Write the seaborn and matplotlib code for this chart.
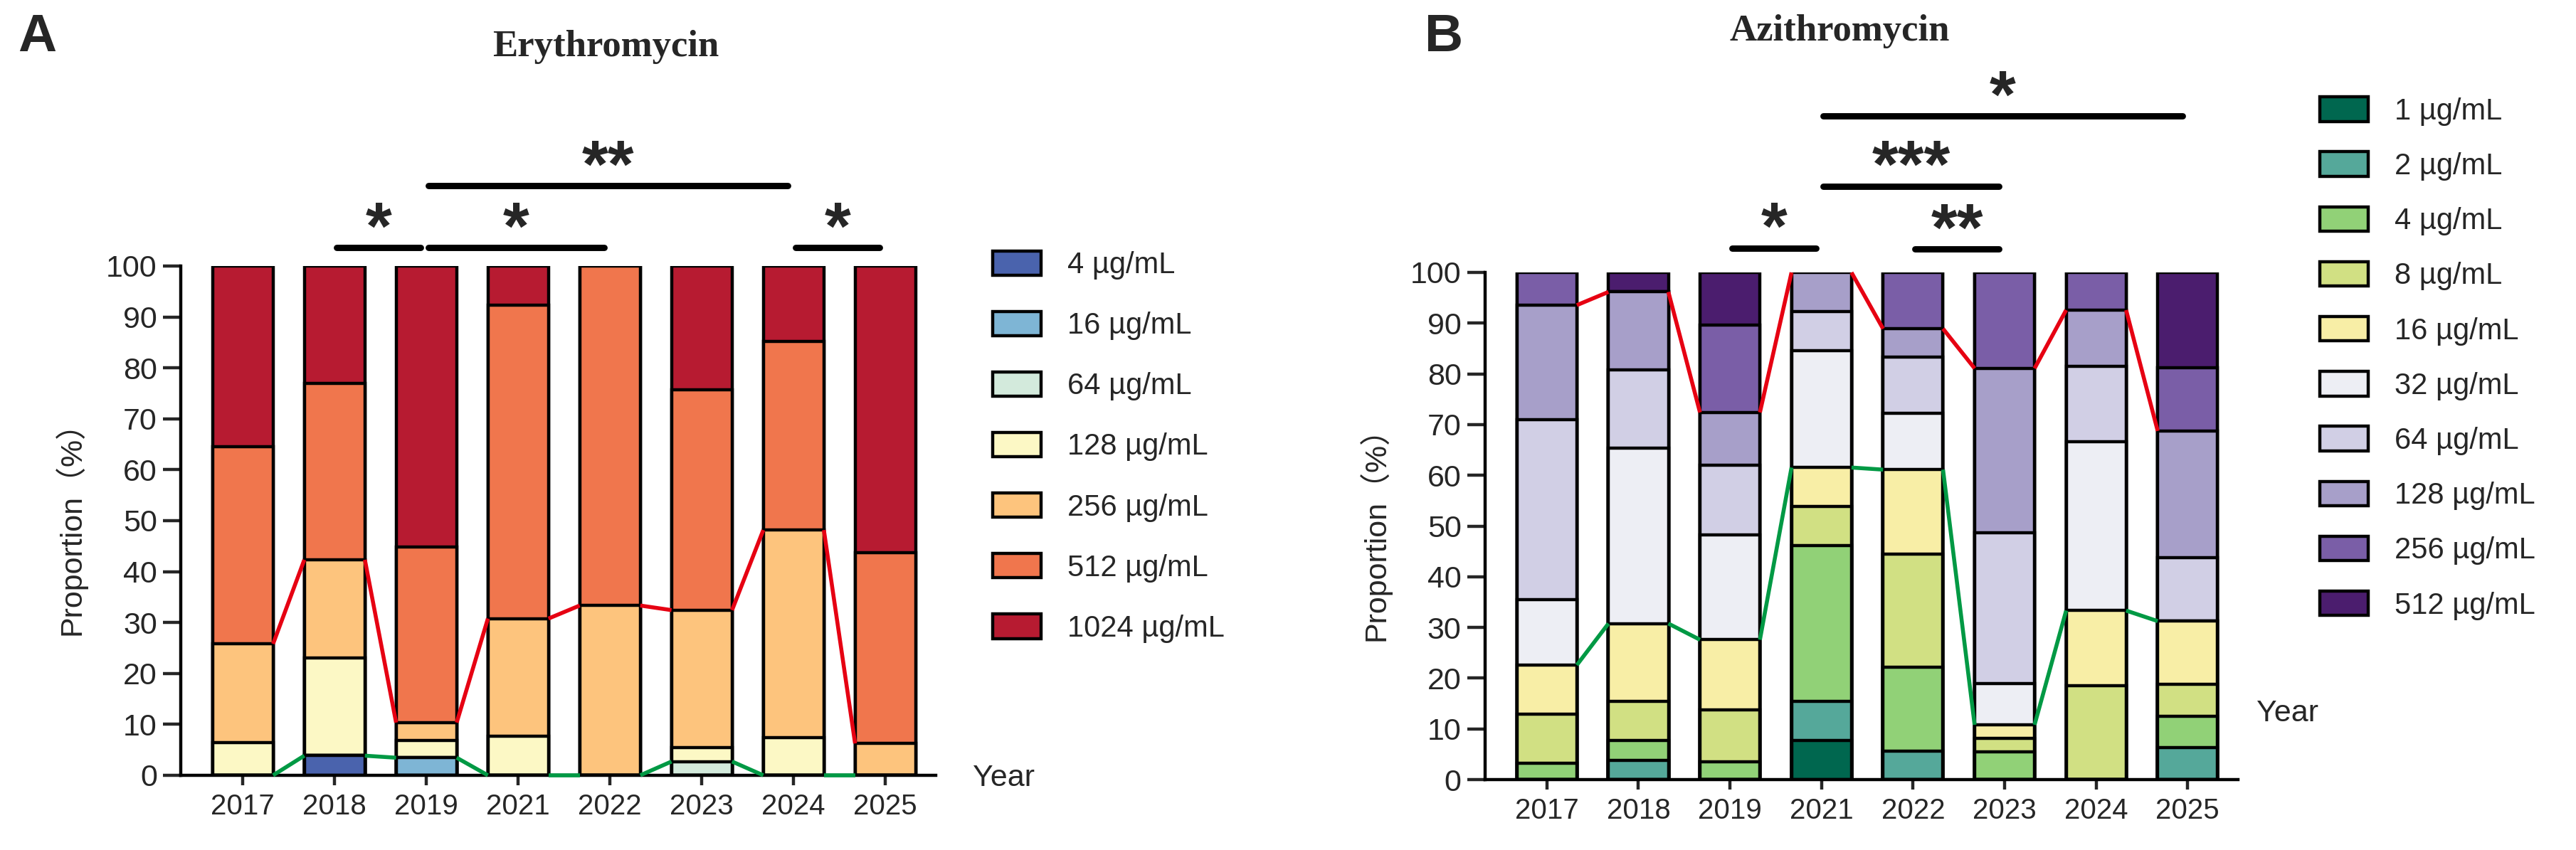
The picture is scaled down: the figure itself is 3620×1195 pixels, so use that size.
import numpy as np
import pandas as pd
import matplotlib
matplotlib.use("Agg")
import matplotlib.pyplot as plt
import seaborn as sns
from matplotlib.patches import Patch

years = ['2017', '2018', '2019', '2021', '2022', '2023', '2024', '2025']

# Erythromycin MIC distribution, % of isolates per year
ery_levels = ['4 µg/mL', '16 µg/mL', '64 µg/mL', '128 µg/mL',
              '256 µg/mL', '512 µg/mL', '1024 µg/mL']
ery_4 = [0, 3.85, 0, 0, 0, 0, 0, 0]
ery_16 = [0, 0, 3.45, 0, 0, 0, 0, 0]
ery_64 = [0, 0, 0, 0, 0, 2.70, 0, 0]
ery_128 = [6.45, 19.23, 3.45, 7.69, 0, 2.70, 7.41, 0]
ery_256 = [19.35, 19.23, 3.45, 23.08, 33.33, 27.03, 40.74, 6.25]
ery_512 = [38.71, 34.62, 34.48, 61.54, 66.67, 43.24, 37.04, 37.50]
ery_1024 = [35.48, 23.08, 55.17, 7.69, 0, 24.32, 14.81, 56.25]
ery_colors = ['#4a63ad', '#7eb5d5', '#d3eadc', '#fcf8c5',
              '#fdc47d', '#f0764d', '#b71b31']

# Azithromycin MIC distribution, % of isolates per year
azi_levels = ['1 µg/mL', '2 µg/mL', '4 µg/mL', '8 µg/mL', '16 µg/mL',
              '32 µg/mL', '64 µg/mL', '128 µg/mL', '256 µg/mL', '512 µg/mL']
azi_1 = [0, 0, 0, 7.69, 0, 0, 0, 0]
azi_2 = [0, 3.85, 0, 7.69, 5.56, 0, 0, 6.25]
azi_4 = [3.23, 3.85, 3.45, 30.77, 16.67, 5.41, 0, 6.25]
azi_8 = [9.68, 7.69, 10.34, 7.69, 22.22, 2.70, 18.52, 6.25]
azi_16 = [9.68, 15.38, 13.79, 7.69, 16.67, 2.70, 14.81, 12.50]
azi_32 = [12.90, 34.62, 20.69, 23.08, 11.11, 8.11, 33.33, 0]
azi_64 = [35.48, 15.38, 13.79, 7.69, 11.11, 29.73, 14.81, 12.50]
azi_128 = [22.58, 15.38, 10.34, 7.69, 5.56, 32.43, 11.11, 25.00]
azi_256 = [6.45, 0, 17.24, 0, 11.11, 18.92, 7.41, 12.50]
azi_512 = [0, 3.85, 10.34, 0, 0, 0, 0, 18.75]
azi_colors = ['#00674f', '#55a89a', '#91d177', '#d1e083', '#f8eea6',
              '#edeef4', '#d1cfe5', '#a79fc9', '#7a5ea7', '#4b1d6e']

# significance brackets: (from year index, to year index, label, height)
ery_sig = [(1, 2, '*', 103.6), (2, 4, '*', 103.6), (2, 6, '**', 115.8), (6, 7, '*', 103.6)]
azi_sig = [(2, 3, '*', 104.8), (4, 5, '**', 104.6), (3, 5, '***', 117), (3, 7, '*', 130.8)]

RED = '#e60012'
GREEN = '#009944'

sns.set_style('white')
plt.rcParams['font.family'] = ['Liberation Sans', 'Noto Sans CJK SC', 'DejaVu Sans']


def stacked_panel(ax, table, levels, colors, red_upto, green_upto, sig, width):
    cum = np.cumsum(np.array(table), axis=0)
    # draw cumulative totals from the top category down so lower ones cover
    for k in range(len(levels) - 1, -1, -1):
        sns.barplot(x=years, y=cum[k], order=years, color=colors[k], saturation=1,
                    width=width, edgecolor='black', linewidth=1.6, ax=ax, zorder=2)
    half = width / 2
    for upto, col in [(red_upto, RED), (green_upto, GREEN)]:
        vals = cum[upto]
        for i in range(len(years) - 1):
            ax.plot([i + half, i + 1 - half], [vals[i], vals[i + 1]], color=col,
                    lw=2.0, zorder=3, clip_on=False, solid_capstyle='butt')
    for a, b, lab, h in sig:
        ax.plot([a + 0.02, b - 0.06], [h, h], color='black', lw=3.2,
                solid_capstyle='round', clip_on=False)
        ax.text((a + b) / 2 - 0.02, h - 3.0, lab, ha='center', va='bottom',
                fontsize=34, fontweight='bold', clip_on=False)
    ax.set_ylim(0, 100)
    ax.set_xlim(-0.675, 7.55)
    ax.set_yticks(range(0, 101, 10))
    ax.set_xlabel('')
    ax.set_ylabel('Proportion（%）', fontsize=15.5, labelpad=10)
    ax.tick_params(axis='y', length=9, width=1.6, labelsize=15.5, pad=3, left=True)
    ax.tick_params(axis='x', length=5, width=1.6, labelsize=14.5, pad=4, bottom=True)
    sns.despine(ax=ax)
    for s in ['left', 'bottom']:
        ax.spines[s].set_linewidth(1.6)
        ax.spines[s].set_color('black')
    ax.spines['left'].set_bounds(0, 100)
    ax.patch.set_alpha(0)


fig = plt.figure(figsize=(18.1, 5.975), dpi=200)
axA = fig.add_axes([0.0702, 0.0879, 0.2931, 0.5992])
axB = fig.add_axes([0.5765, 0.0828, 0.2923, 0.5967])

ery_table = [ery_4, ery_16, ery_64, ery_128, ery_256, ery_512, ery_1024]
azi_table = [azi_1, azi_2, azi_4, azi_8, azi_16, azi_32, azi_64,
             azi_128, azi_256, azi_512]

stacked_panel(axA, ery_table, ery_levels, ery_colors, 4, 2, ery_sig, 0.66)
stacked_panel(axB, azi_table, azi_levels, azi_colors, 7, 4, azi_sig, 0.655)

axA.text(3.95, 143, 'Erythromycin', ha='center', va='center', fontsize=19,
         fontweight='bold', family='Liberation Serif', clip_on=False)
axB.text(3.2, 147.5, 'Azithromycin', ha='center', va='center', fontsize=19,
         fontweight='bold', family='Liberation Serif', clip_on=False)
fig.text(0.007, 0.985, 'A', fontsize=27, fontweight='bold', va='top')
fig.text(0.553, 0.985, 'B', fontsize=27, fontweight='bold', va='top')

axA.text(7.95, -0.5, 'Year', ha='left', va='center', fontsize=15.5, clip_on=False)
axB.text(7.75, 13, 'Year', ha='left', va='center', fontsize=15.5, clip_on=False)

for levels, colors, anchor, spacing in [(ery_levels, ery_colors, (0.3854, 0.705), 1.07),
                                        (azi_levels, azi_colors, (0.9006, 0.886), 0.88)]:
    handles = [Patch(facecolor=c, edgecolor='black', linewidth=1.6) for c in colors]
    fig.legend(handles, levels, loc='upper left', bbox_to_anchor=anchor,
               frameon=False, fontsize=15, handlelength=1.63, handleheight=0.89,
               handletextpad=0.89, labelspacing=spacing, borderpad=0, borderaxespad=0)

fig.savefig('out.png', dpi=200, facecolor='white')
